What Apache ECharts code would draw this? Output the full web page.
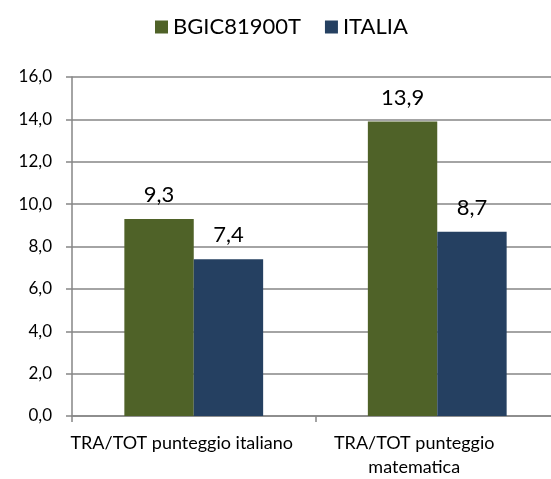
<!DOCTYPE html>
<html>
<head>
<meta charset="utf-8">
<script src="https://cdn.jsdelivr.net/npm/echarts@6/dist/echarts.min.js"></script>
<style>
  html, body { margin: 0; padding: 0; background: #fff; overflow: hidden; }
  /* plot area runs a few pixels past the right edge, as in the original */
  #plot { width: 559px; height: 479px; }
</style>
</head>
<body>
<div id="plot"></div>
<script>
const categories = ['TRA/TOT punteggio italiano', 'TRA/TOT punteggio matematica'];
// line breaks as they appear under the axis
const categoryLabels = ['TRA/TOT punteggio italiano', 'TRA/TOT punteggio\nmatematica'];
const seriesNames = ['BGIC81900T', 'ITALIA'];
const schoolValues = [9.3, 13.9];
const italyValues = [7.4, 8.7];
const yTicks = { min: 0, max: 16, interval: 2 };

const FONT = 'Lato';
const fmt = v => Number(v).toFixed(1).replace('.', ',');

function drawPlot() {
    const chart = echarts.init(document.getElementById('plot'));

    const valueLabel = {
        show: true,
        position: 'top',
        distance: 13,
        color: '#000',
        fontFamily: FONT,
        fontSize: 22,
        formatter: p => fmt(p.value)
    };

    const option = {
        animation: false,
        legend: {
            data: seriesNames,
            top: 11,
            left: 150,
            itemWidth: 13,
            itemHeight: 13,
            itemGap: 24,
            icon: 'rect',
            textStyle: { fontFamily: FONT, fontSize: 22, color: '#000' }
        },
        grid: { left: 72, right: 0, top: 77, bottom: 61, containLabel: false },
        xAxis: {
            type: 'category',
            data: categories,
            axisLine: { lineStyle: { color: '#868686', width: 1.5 } },
            axisTick: { show: true, length: 6, lineStyle: { color: '#868686', width: 1.5 } },
            axisLabel: {
                interval: 0,
                hideOverlap: false,
                margin: 15,
                color: '#000',
                fontFamily: FONT,
                fontSize: 18,
                lineHeight: 24,
                formatter: (v, i) => i === 0
                    ? '{a|' + categoryLabels[0] + '}'
                    : categoryLabels[1].split('\n').map(s => '{b|' + s + '}').join('\n'),
                rich: {
                    a: { fontFamily: FONT, fontSize: 18, color: '#000', padding: [0, 24, 0, 0] },
                    b: { fontFamily: FONT, fontSize: 18, color: '#000', lineHeight: 24, padding: [0, 46, 0, 0] }
                }
            }
        },
        yAxis: {
            type: 'value',
            min: yTicks.min,
            max: yTicks.max,
            interval: yTicks.interval,
            axisLine: { show: true, lineStyle: { color: '#868686', width: 1.5 } },
            axisTick: { show: true, length: 6, lineStyle: { color: '#868686', width: 1.5 } },
            splitLine: { lineStyle: { color: '#868686', width: 1.5 } },
            axisLabel: {
                margin: 20,
                color: '#000',
                fontFamily: FONT,
                fontSize: 17,
                formatter: v => fmt(v)
            }
        },
        series: [
            {
                name: seriesNames[0],
                type: 'bar',
                data: schoolValues,
                barGap: '0%',
                barCategoryGap: '43%',
                itemStyle: { color: '#4F6228' },
                label: valueLabel
            },
            {
                name: seriesNames[1],
                type: 'bar',
                data: italyValues,
                barGap: '0%',
                barCategoryGap: '43%',
                itemStyle: { color: '#254061' },
                label: valueLabel
            }
        ]
    };

    chart.setOption(option);
    window.addEventListener('resize', () => chart.resize());
}

drawPlot();
</script>
</body>
</html>
